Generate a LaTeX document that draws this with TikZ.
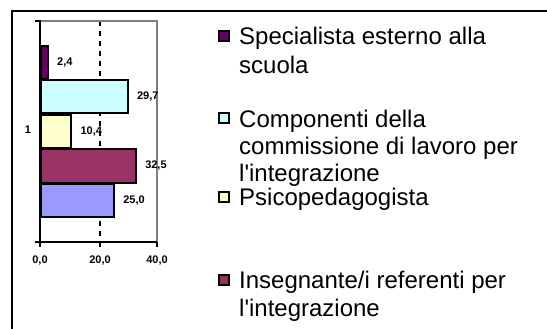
\documentclass[tikz,border=0pt]{standalone}
\usepackage{fontspec}
\setmainfont{Liberation Sans}
\usetikzlibrary{positioning}
\definecolor{specialista}{HTML}{660066}
\definecolor{componenti}{HTML}{CCFFFF}
\definecolor{psico}{HTML}{FFFFCC}
\definecolor{referenti}{HTML}{993366}
\definecolor{altro}{HTML}{9999FF}
\tikzset{
  barbox/.style = {draw=black, line width=2pt, anchor=north west,
    inner sep=0pt, minimum height=33pt},% barra del grafico
  vallbl/.style = {font=\fontsize{11}{11}\selectfont\bfseries,
    inner sep=0pt},% etichetta numerica
  legbox/.style = {draw=black, line width=2pt, inner sep=0pt,
    minimum size=10pt},% quadratino della legenda
  legtext/.style = {font=\fontsize{24}{28.5}\selectfont, align=left,
    inner sep=0pt, anchor=base west}% voce della legenda (base = ultima riga)
}

\begin{document}
\begin{tikzpicture}[x=1pt,y=-1pt]
        \useasboundingbox (0,0) rectangle (547,329);
        % cornice
        \draw[line width=2pt] (12,329) -- (12,11) -- (547,11);
        % griglia
        \draw[line width=2pt, dash pattern=on 5pt off 5pt] (100,21) -- (100,242);
        \draw[line width=2pt, gray] (40,21) -- (157,21) -- (157,242);
        % barre
        \foreach \i/\val/\lbl/\col in {1/2.4/{2,4}/specialista, 2/29.7/{29,7}/componenti,
            3/10.4/{10,4}/psico, 4/32.5/{32,5}/referenti, 5/25.0/{25,0}/altro}{
            \node [barbox, fill=\col, minimum width={2.925pt*\val}] (b\i) at (40,{45+34.5*(\i-1)}) {};
            \node [vallbl, right=8pt of b\i] (v\i) {\lbl};
        }
        % assi
        \draw[line width=2pt] (35,21) -- (40,21) -- (40,247);
        \draw[line width=2pt] (35,242) -- (157,242);
        \foreach \x in {100,157}
            \draw[line width=2pt] (\x,242) -- (\x,247);
        \node [vallbl] (cat) at (28,130) {1};
        \node [vallbl] (t0) at (40,261) {0,0};
        \node [vallbl] (t20) at (100,261) {20,0};
        \node [vallbl] (t40) at (157,261) {40,0};
        % legenda
        \node [legbox, fill=specialista] (s1) at (223.5,36.5) {};
        \node [legtext] (l1) at ([xshift=9.5pt,yshift=-37pt]s1.east)
            {Specialista esterno alla\\scuola};
        \node [legbox, fill=componenti] (s2) at (223.5,118.5) {};
        \node [legtext, font=\fontsize{24}{27}\selectfont] (l2) at ([xshift=9.5pt,yshift=-62.5pt]s2.east)
            {Componenti della\\commissione di lavoro per\\l\textquotesingle integrazione};
        \node [legbox, fill=psico] (s3) at (223.5,196.5) {};
        \node [legtext] (l3) at ([xshift=9.5pt,yshift=-8.5pt]s3.east)
            {Psicopedagogista};
        \node [legbox, fill=referenti] (s4) at (223.5,279.5) {};
        \node [legtext] (l4) at ([xshift=9.5pt,yshift=-37pt]s4.east)
            {Insegnante/i referenti per\\l\textquotesingle integrazione};
\end{tikzpicture}
\end{document}
